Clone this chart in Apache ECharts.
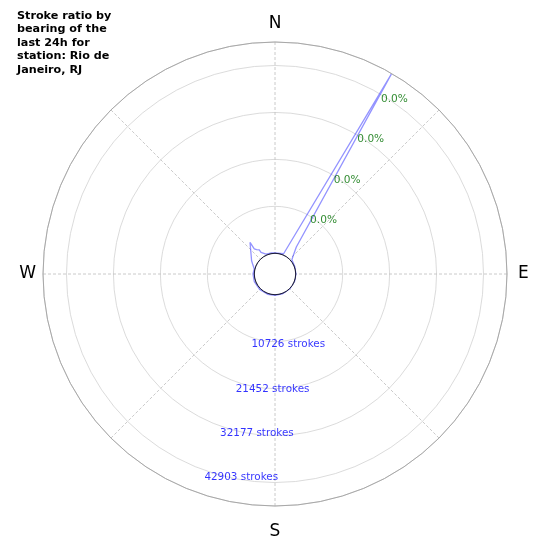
<!DOCTYPE html>
<html>
<head>
<meta charset="utf-8">
<script src="https://cdn.jsdelivr.net/npm/echarts@6/dist/echarts.min.js"></script>
<style>html,body{margin:0;padding:0;background:#fff;}#c{width:550px;height:550px;}</style>
</head>
<body>
<div id="c"></div>
<script>
// ---- data ----
const titleLines = ['Stroke ratio by', 'bearing of the', 'last 24h for', 'station: Rio de', 'Janeiro, RJ'];
const cardinalTicks = [0, 90, 180, 270];
const cardinalNames = ['N', 'E', 'S', 'W'];
const bearings = [0, 15, 23, 30.2, 38.3, 45.6, 50, 70, 90, 110, 135, 160, 180, 200, 225, 250, 270, 283.6, 294, 299.6, 309.8, 321.7, 320.4, 322.9, 326.8, 327, 328.2, 335.8, 350, 360];
const strokes  = [100, 150, 300, 48100, 3130, 1000, 300, 100, 50, 50, 50, 100, 150, 200, 250, 300, 300, 140, 870, 1420, 2400, 4480, 2700, 2240, 1830, 1140, 640, 270, 150, 100];
const radialMax = 48266;
const ringTicks = [10726, 21452, 32177, 42903];
const ringLabels = ['10726 strokes', '21452 strokes', '32177 strokes', '42903 strokes'];
const ratioLabels = ['0.0%', '0.0%', '0.0%', '0.0%'];

// ---- build ----
const FONT = 'DejaVu Sans';
const CENTER = [275, 274];
const INNER = 20.7, OUTER = 232;
const ringLabelBearing = 199.5;
let peakIdx = 0;
strokes.forEach((v, i) => { if (v > strokes[peakIdx]) peakIdx = i; });
const peakBearing = bearings[peakIdx];
const cardStyle = {fontFamily: FONT, fontSize: 17, color: '#000'};

const chart = echarts.init(document.getElementById('c'), null, {renderer: 'canvas'});
chart.setOption({
  animation: false,
  backgroundColor: '#fff',
  title: {
    text: titleLines.join('\n'),
    left: 17, top: 9, padding: 0,
    textStyle: {fontFamily: FONT, fontSize: 11.2, fontWeight: 'bold', color: '#000', lineHeight: 13.5}
  },
  polar: [
    {center: CENTER, radius: [INNER, OUTER]},
    {center: CENTER, radius: [0, INNER]}
  ],
  angleAxis: [
    {
      polarIndex: 0, type: 'value', min: 0, max: 360, interval: 45,
      startAngle: 90, clockwise: true,
      axisLine: {show: true, lineStyle: {color: '#a8a8a8', width: 1}},
      axisTick: {show: false},
      axisLabel: {
        show: true, margin: 7, fontFamily: FONT, fontSize: 17, color: '#000',
        formatter: v => { const k = cardinalTicks.indexOf(v); return k >= 0 ? '{' + cardinalNames[k] + '|' + cardinalNames[k] + '}' : ''; },
        rich: {
          N: Object.assign({padding: [0, 0, 3, 0]}, cardStyle),
          E: Object.assign({padding: [0, 0, 0, 4]}, cardStyle),
          S: Object.assign({padding: [10, 0, 0, 0]}, cardStyle),
          W: Object.assign({padding: [0, 0, 0, 0]}, cardStyle)
        }
      },
      splitLine: {show: true, lineStyle: {color: '#bdbdbd', width: 0.8, type: [3, 2]}}
    },
    {
      polarIndex: 1, type: 'value', min: 0, max: 360, startAngle: 90, clockwise: true, z: 5,
      axisLine: {show: true, lineStyle: {color: '#1a1a3a', width: 1}},
      axisTick: {show: false}, axisLabel: {show: false}, splitLine: {show: false}
    }
  ],
  radiusAxis: [
    {
      polarIndex: 0, type: 'value', min: 0, max: radialMax, interval: radialMax * 2 / 9,
      axisLine: {show: false}, axisTick: {show: false}, axisLabel: {show: false},
      splitLine: {show: true, lineStyle: {color: '#d2d2d2', width: 0.8}}
    },
    {
      polarIndex: 1, type: 'value', min: 0, max: 1,
      axisLine: {show: false}, axisTick: {show: false}, axisLabel: {show: false}, splitLine: {show: false}
    }
  ],
  series: [
    {
      type: 'line', coordinateSystem: 'polar', polarIndex: 0,
      data: bearings.map((b, i) => [strokes[i], b]),
      symbol: 'none', smooth: false,
      lineStyle: {color: 'rgba(40,40,255,0.5)', width: 1.3},
      z: 3
    },
    {
      type: 'scatter', coordinateSystem: 'polar', polarIndex: 0,
      data: ringTicks.map((t, i) => ({value: [t, ringLabelBearing], name: ringLabels[i]})),
      symbolSize: 0.01, silent: true,
      label: {show: true, position: 'right', distance: 0, offset: [-1, 7], formatter: p => p.name,
        fontFamily: FONT, fontSize: 10.4, color: '#0000ff'},
      z: 6
    },
    {
      type: 'scatter', coordinateSystem: 'polar', polarIndex: 0,
      data: ringTicks.map((t, i) => ({value: [t, peakBearing], name: ratioLabels[i]})),
      symbolSize: 0.01, silent: true,
      label: {show: true, position: 'right', distance: 0, offset: [1, 5], formatter: p => p.name,
        fontFamily: FONT, fontSize: 10.6, color: '#007000'},
      z: 6
    }
  ]
});
</script>
</body>
</html>
